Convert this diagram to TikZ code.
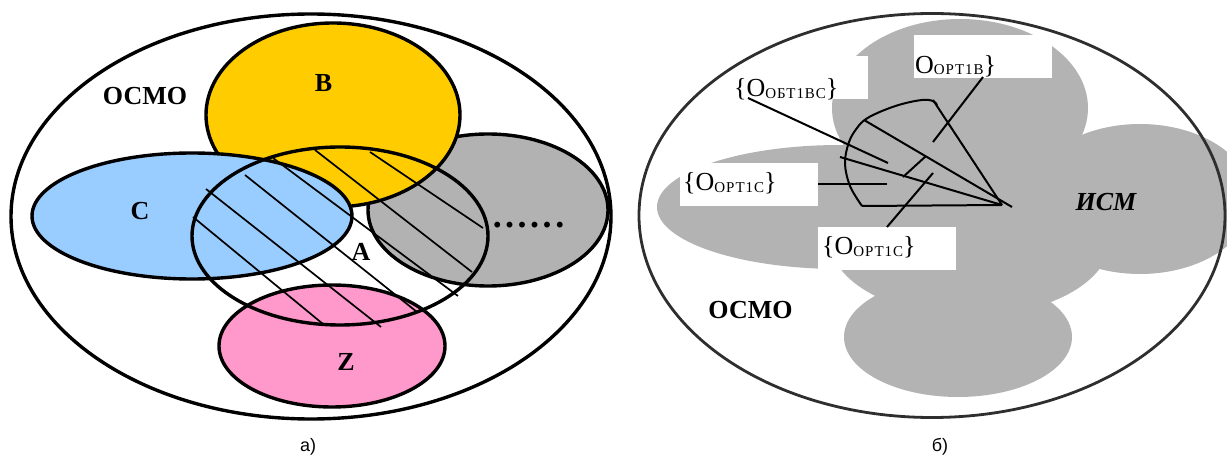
\documentclass[tikz,border=0pt]{standalone}
\usepackage{fontspec}
\setmainfont{Liberation Serif}
\newfontfamily\capfont{Liberation Sans}
\definecolor{setB}{HTML}{FFCC00}
\definecolor{setC}{HTML}{99CCFF}
\definecolor{setZ}{HTML}{FF99CC}
\definecolor{setG}{HTML}{B2B2B2}
\definecolor{ismgray}{HTML}{B3B3B3}
\definecolor{rim}{HTML}{2E2E2E}
\newcommand{\subtag}[1]{\raisebox{-1.5pt}{\fontsize{15}{17}\selectfont\addfontfeature{LetterSpace=6}#1}}
\tikzset{
  setline/.style={line width=3.4pt},
  hatchline/.style={line width=1.7pt},
  leader/.style={line width=2pt},
  biglabel/.style={inner sep=0pt, font=\fontsize{26}{30}\selectfont\bfseries},
  idlabel/.style={inner sep=0pt, anchor=base west, font=\fontsize{26}{30}\selectfont},
  caption/.style={inner sep=0pt, font=\capfont\fontsize{18}{20}\selectfont},
  whitebox/.style={fill=white},
}
\begin{document}
\begin{tikzpicture}[x=1pt,y=-1pt]
\useasboundingbox (0,0) rectangle (1227,457);

% ---------- (a) sets inside the universe ----------
\draw[setline] (311,216.5) ellipse [x radius=300, y radius=202.5];
\filldraw[setline, fill=setG] (488,210) ellipse [x radius=120, y radius=76];
\filldraw[setline, fill=setB] (333,115) ellipse [x radius=127, y radius=92];
\filldraw[setline, fill=setC] (192,216) ellipse [x radius=160, y radius=63];
\filldraw[setline, fill=setZ] (332,346) ellipse [x radius=113, y radius=61];
\draw[setline] (340,236) ellipse [x radius=148, y radius=89];

% hatching of set A
\draw[hatchline] (193,217) -- (323,324);
\draw[hatchline] (206,189) -- (381,327);
\draw[hatchline] (245,175) -- (417,312);
\draw[hatchline] (273,158) -- (458,296);
\draw[hatchline] (315,150) -- (472,272);
\draw[hatchline] (370,152) -- (483,228);

\node[biglabel] (osmoA) at (145,96) {ОСМО};
\node[biglabel] (labB) at (323.5,83.5) {В};
\node[biglabel] (labC) at (140,211) {С};
\node[biglabel] (labA) at (361,251.5) {А};
\node[biglabel] (labZ) at (346,361.5) {Z};
\node[inner sep=0pt, font=\fontsize{36}{36}\selectfont\bfseries] (more) at (528.5,225)
  {.\kern3.5pt.\kern3.5pt.\kern3.5pt.\kern3.5pt.\kern3.5pt.};
\node[caption] (capA) at (308,447) {а)};

% ---------- (b) the ISM region ----------
\begin{scope}[fill=ismgray]
  \fill (960,108) ellipse [x radius=128, y radius=89];
  \fill (840,207) ellipse [x radius=183, y radius=62];
  \fill (1140,199) ellipse [x radius=112, y radius=75];
  \fill (970,240) ellipse [x radius=140, y radius=76];
  \fill (958,337) ellipse [x radius=114, y radius=60];
\end{scope}

% label boxes
\fill[whitebox] (728,56) rectangle (868,99);
\fill[whitebox] (914,35) rectangle (1052,78);
\fill[whitebox] (680,163) rectangle (818,206);
\fill[whitebox] (818,227) rectangle (956,270);

\node[idlabel] (obt) at (734,97) {\{O\subtag{ОБТ1ВС}\}};
\node[idlabel] (optB) at (915,73.5) {O\subtag{ОРТ1В}\}};
\node[idlabel] (optC1) at (683,191) {\{O\subtag{ОРТ1С}\}};
\node[idlabel] (optC2) at (822,255) {\{O\subtag{ОРТ1С}\}};

% the sector of optimal objects
\coordinate (apex) at (1002,205);
\coordinate (arcTop) at (933,100);
\coordinate (arcBot) at (862,206);
\draw[leader, line join=round] plot[smooth, tension=0.6] coordinates
  {(862,206) (850,186) (845,163) (849,142) (857,128) (866,119) (882,111) (902,104) (922,100) (933,101) (937,105)};
\draw[leader] (arcTop) -- (apex);
\draw[leader] (arcBot) -- (apex);
\draw[leader] (864,120) -- (1012,207);
\draw[leader] (840,157) -- (apex);
\draw[leader] (903,177) -- (926,156);

% leaders from the labels
\coordinate (obtStart) at (748,98);
\coordinate (obtEnd) at (888,163);
\coordinate (optBStart) at (983,77);
\coordinate (optBEnd) at (933,142);
\coordinate (c1Start) at (818,184);
\coordinate (c1End) at (887,184);
\coordinate (c2Start) at (887,227);
\coordinate (c2End) at (933,173);
\draw[leader] (obtStart) -- (obtEnd);
\draw[leader] (optBStart) -- (optBEnd);
\draw[leader] (c1Start) -- (c1End);
\draw[leader] (c2Start) -- (c2End);

\node[biglabel, font=\fontsize{26}{30}\selectfont\bfseries\itshape] (ism) at (1106,202.5) {ИСМ};
\node[biglabel] (osmoB) at (750.5,310) {ОСМО};

\draw[line width=2.8pt, draw=rim] (932,215.5) ellipse [x radius=293, y radius=202];
\node[caption] (capB) at (940,447) {б)};
\end{tikzpicture}
\end{document}
